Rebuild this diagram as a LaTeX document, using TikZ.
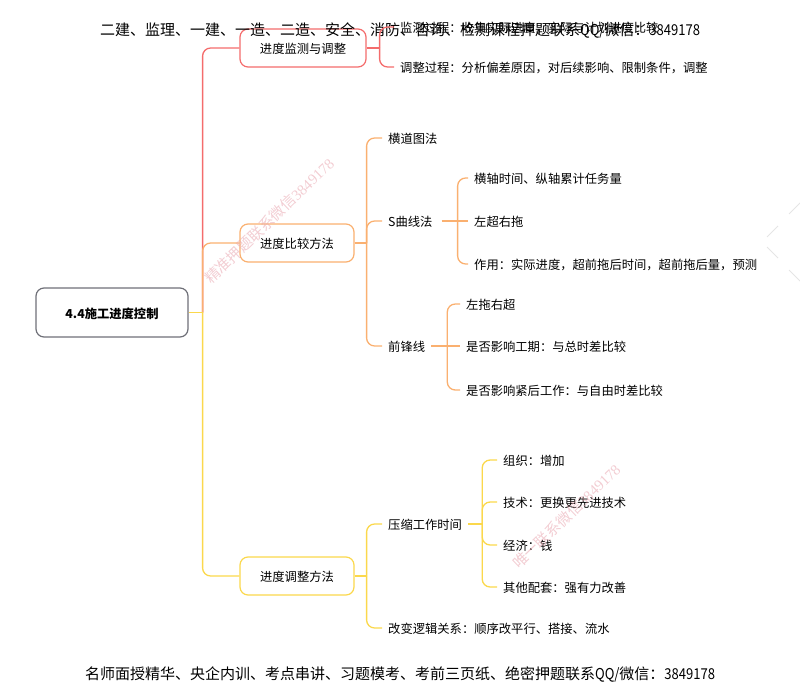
\documentclass[tikz,border=0pt]{standalone}
\usepackage{fontspec}
\setmainfont{Noto Sans CJK SC}
\newfontfamily\stampdigits{Liberation Serif}
\newcommand{\tightnum}[1]{{\addfontfeatures{FakeStretch=0.87}#1}}
\definecolor{rootgray}{HTML}{6F7078}
\definecolor{redbranch}{HTML}{F46C6C}
\definecolor{orangebranch}{HTML}{FAB070}
\definecolor{yellowbranch}{HTML}{FBD84C}
\definecolor{stamppink}{HTML}{E8A4AE}
\tikzset{
	box/.style={draw, rounded corners=8pt, line width=1.2pt, fill=white, text=black, font=\fontsize{12.3}{14}\selectfont, text height=12pt, text depth=1pt, inner sep=0pt},
	leaf/.style={anchor=west, text=black, font=\fontsize{12.3}{14}\selectfont, text height=12pt, text depth=1pt, inner xsep=6pt, inner ysep=1pt},
	banner/.style={anchor=west, text=black, font=\fontsize{15}{17}\selectfont, text height=13.5pt, text depth=1.2pt, inner sep=0pt},
	stamp/.style={anchor=west, rotate=44, text=stamppink, opacity=0.55, font=\fontsize{15}{17}\selectfont, inner sep=0pt},
	branch/.style={rounded corners=8pt, line width=1.3pt}
}
\begin{document}
\begin{tikzpicture}[x=1pt, y=-1pt]
		\useasboundingbox (0, 0) rectangle (800, 698);

		% Main boxes
		\node[box, draw=rootgray, minimum width=152pt, minimum height=49pt] (root) at (112, 312.5) {\textbf{4.4施工进度控制}};
		\node[box, draw=redbranch, minimum width=126pt, minimum height=38pt] (monitor) at (303, 48) {进度监测与调整};
		\node[box, draw=orangebranch, minimum width=114pt, minimum height=38pt] (compare) at (297, 243) {进度比较方法};
		\node[box, draw=yellowbranch, minimum width=114pt, minimum height=38pt] (adjust) at (297, 576) {进度调整方法};

		% First level
		\node[leaf] (watch) at (394, 27) {监测过程：收集实际进度，实际与计划进度比较};
		\node[leaf] (tune) at (394, 67) {调整过程：分析偏差原因，对后续影响、限制条件，调整};
		\node[leaf] (bar) at (382, 138) {横道图法};
		\node[leaf] (scurve) at (382, 221) {S曲线法};
		\node[leaf] (front) at (382, 346) {前锋线};
		\node[leaf] (shorten) at (382, 524) {压缩工作时间};
		\node[leaf] (logic) at (382, 628) {改变逻辑关系：顺序改平行、搭接、流水};

		% Second level
		\node[leaf] (axis) at (468, 178) {横轴时间、纵轴累计任务量};
		\node[leaf] (leftright) at (468, 221) {左超右拖};
		\node[leaf] (effect) at (468, 264) {作用：实际进度，超前拖后时间，超前拖后量，预测};
		\node[leaf] (rightleft) at (460, 304) {左拖右超};
		\node[leaf] (period) at (460, 346) {是否影响工期：与总时差比较};
		\node[leaf] (nextwork) at (460, 390) {是否影响紧后工作：与自由时差比较};
		\node[leaf] (organize) at (497, 460) {组织：增加};
		\node[leaf] (technic) at (497, 502) {技术：更换更先进技术};
		\node[leaf] (economy) at (497, 545) {经济：钱};
		\node[leaf] (other) at (497, 587) {其他配套：强有力改善};

		% Banners
		\node[banner] (top) at (100, 29) {二建、监理、一建、一造、二造、安全、消防、咨询、检测课程押题联系\tightnum{QQ/}微信：\tightnum{3849178}};
		\node[banner] (bottom) at (85, 673) {名师面授精华、央企内训、考点串讲、习题模考、考前三页纸、绝密押题联系\tightnum{QQ/}微信：\tightnum{3849178}};

		% Draw branches
		\draw[branch, redbranch] ([xshift=14pt]root.east) |- (monitor.west);
		\draw[branch, orangebranch] ([xshift=14pt]root.east) |- (compare.west);
		\draw[branch, yellowbranch] ([xshift=14pt]root.east) |- (adjust.west);
		\draw[branch, yellowbranch] (root.east) -- ++(14, 0);

		\draw[branch, redbranch] (monitor.east) -- ++(13, 0);
		\foreach \kid in {watch, tune}
			\draw[branch, redbranch] ([xshift=13pt]monitor.east) |- (\kid.west);
		\draw[branch, orangebranch] (compare.east) -- ++(12, 0);
		\foreach \kid in {bar, scurve, front}
			\draw[branch, orangebranch] ([xshift=12pt]compare.east) |- (\kid.west);
		\draw[branch, orangebranch] ([xshift=3pt]scurve.east) -- ++(16, 0);
		\foreach \kid in {axis, effect}
			\draw[branch, orangebranch] ([xshift=19pt]scurve.east) |- (\kid.west);
		\draw[branch, orangebranch] ([xshift=19pt]scurve.east) -- (leftright.west);
		\draw[branch, orangebranch] (front.east) -- ++(16, 0);
		\foreach \kid in {rightleft, nextwork}
			\draw[branch, orangebranch] ([xshift=16pt]front.east) |- (\kid.west);
		\draw[branch, orangebranch] ([xshift=16pt]front.east) -- (period.west);
		\draw[branch, yellowbranch] (adjust.east) -- ++(12, 0);
		\foreach \kid in {shorten, logic}
			\draw[branch, yellowbranch] ([xshift=12pt]adjust.east) |- (\kid.west);
		\draw[branch, yellowbranch] (shorten.east) -- ++(14, 0);
		\foreach \kid in {organize, technic, economy, other}
			\draw[branch, yellowbranch] ([xshift=14pt]shorten.east) |- (\kid.west);

		% Corner marks
		\draw[black!10, line width=1pt] (767, 237) -- (778, 226) (789, 214) -- (800, 203);
		\draw[black!10, line width=1pt] (767, 247) -- (778, 258) (789, 270) -- (800, 281);

		% Watermarks
		\node[stamp] (stampa) at (207, 281) {精准押题联系微信{\stampdigits 3849178}};
		\node[stamp] (stampb) at (515, 566) {唯一联系微信{\stampdigits 3849178}};
	\end{tikzpicture}
\end{document}
